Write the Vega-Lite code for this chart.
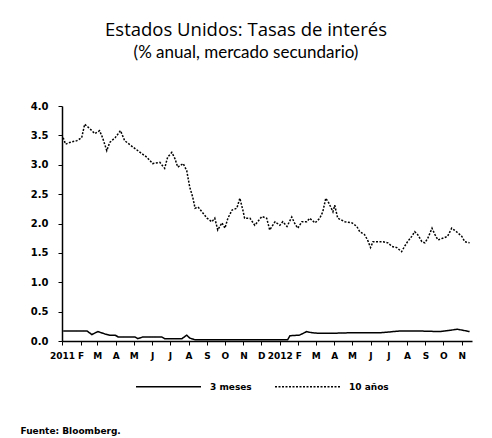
{
  "$schema": "https://vega.github.io/schema/vega-lite/v6.json",
  "width": 410,
  "height": 235,
  "autosize": {"type": "none"},
  "padding": {"left": 62, "top": 106, "right": 20, "bottom": 97},
  "background": "white",
  "title": {
    "text": "Estados Unidos: Tasas de interés",
    "subtitle": "(% anual, mercado secundario)",
    "font": "Open Sans",
    "fontSize": 18.5,
    "fontWeight": 500,
    "subtitleFont": "Lato",
    "subtitleFontSize": 17,
    "subtitlePadding": 6,
    "color": "black",
    "subtitleColor": "black",
    "anchor": "middle",
    "dx": -21,
    "offset": 40
  },
  "data": {
    "values": [
      {"d": "2011-01-03", "s": "10 años", "v": 3.46},
      {"d": "2011-01-07", "s": "10 años", "v": 3.35},
      {"d": "2011-01-14", "s": "10 años", "v": 3.38},
      {"d": "2011-01-26", "s": "10 años", "v": 3.41},
      {"d": "2011-02-03", "s": "10 años", "v": 3.46},
      {"d": "2011-02-08", "s": "10 años", "v": 3.69},
      {"d": "2011-02-17", "s": "10 años", "v": 3.61},
      {"d": "2011-02-25", "s": "10 años", "v": 3.53},
      {"d": "2011-03-05", "s": "10 años", "v": 3.58},
      {"d": "2011-03-10", "s": "10 años", "v": 3.46},
      {"d": "2011-03-17", "s": "10 años", "v": 3.24},
      {"d": "2011-03-22", "s": "10 años", "v": 3.38},
      {"d": "2011-03-31", "s": "10 años", "v": 3.46},
      {"d": "2011-04-09", "s": "10 años", "v": 3.58},
      {"d": "2011-04-16", "s": "10 años", "v": 3.41},
      {"d": "2011-04-30", "s": "10 años", "v": 3.30},
      {"d": "2011-05-12", "s": "10 años", "v": 3.21},
      {"d": "2011-05-23", "s": "10 años", "v": 3.13},
      {"d": "2011-06-02", "s": "10 años", "v": 3.02},
      {"d": "2011-06-14", "s": "10 años", "v": 3.04},
      {"d": "2011-06-22", "s": "10 años", "v": 2.94},
      {"d": "2011-06-27", "s": "10 años", "v": 3.13},
      {"d": "2011-07-04", "s": "10 años", "v": 3.21},
      {"d": "2011-07-09", "s": "10 años", "v": 3.11},
      {"d": "2011-07-14", "s": "10 años", "v": 2.96},
      {"d": "2011-07-23", "s": "10 años", "v": 3.02},
      {"d": "2011-07-29", "s": "10 años", "v": 2.90},
      {"d": "2011-08-03", "s": "10 años", "v": 2.62},
      {"d": "2011-08-08", "s": "10 años", "v": 2.45},
      {"d": "2011-08-12", "s": "10 años", "v": 2.26},
      {"d": "2011-08-17", "s": "10 años", "v": 2.28},
      {"d": "2011-08-25", "s": "10 años", "v": 2.18},
      {"d": "2011-09-01", "s": "10 años", "v": 2.09},
      {"d": "2011-09-09", "s": "10 años", "v": 2.03},
      {"d": "2011-09-14", "s": "10 años", "v": 2.09},
      {"d": "2011-09-19", "s": "10 años", "v": 1.89},
      {"d": "2011-09-26", "s": "10 años", "v": 2.01},
      {"d": "2011-10-01", "s": "10 años", "v": 1.92},
      {"d": "2011-10-06", "s": "10 años", "v": 2.09},
      {"d": "2011-10-13", "s": "10 años", "v": 2.23},
      {"d": "2011-10-21", "s": "10 años", "v": 2.26},
      {"d": "2011-10-26", "s": "10 años", "v": 2.43},
      {"d": "2011-10-31", "s": "10 años", "v": 2.23},
      {"d": "2011-11-03", "s": "10 años", "v": 2.09},
      {"d": "2011-11-12", "s": "10 años", "v": 2.09},
      {"d": "2011-11-20", "s": "10 años", "v": 1.97},
      {"d": "2011-12-02", "s": "10 años", "v": 2.12},
      {"d": "2011-12-10", "s": "10 años", "v": 2.09},
      {"d": "2011-12-15", "s": "10 años", "v": 1.89},
      {"d": "2011-12-24", "s": "10 años", "v": 2.03},
      {"d": "2012-01-01", "s": "10 años", "v": 1.97},
      {"d": "2012-01-06", "s": "10 años", "v": 2.03},
      {"d": "2012-01-13", "s": "10 años", "v": 1.95},
      {"d": "2012-01-21", "s": "10 años", "v": 2.11},
      {"d": "2012-01-26", "s": "10 años", "v": 2.00},
      {"d": "2012-01-31", "s": "10 años", "v": 1.92},
      {"d": "2012-02-07", "s": "10 años", "v": 2.03},
      {"d": "2012-02-15", "s": "10 años", "v": 2.03},
      {"d": "2012-02-20", "s": "10 años", "v": 2.09},
      {"d": "2012-02-29", "s": "10 años", "v": 2.01},
      {"d": "2012-03-08", "s": "10 años", "v": 2.09},
      {"d": "2012-03-13", "s": "10 años", "v": 2.20},
      {"d": "2012-03-18", "s": "10 años", "v": 2.43},
      {"d": "2012-03-23", "s": "10 años", "v": 2.35},
      {"d": "2012-03-30", "s": "10 años", "v": 2.20},
      {"d": "2012-04-02", "s": "10 años", "v": 2.31},
      {"d": "2012-04-07", "s": "10 años", "v": 2.09},
      {"d": "2012-04-19", "s": "10 años", "v": 2.03},
      {"d": "2012-05-01", "s": "10 años", "v": 2.01},
      {"d": "2012-05-09", "s": "10 años", "v": 1.95},
      {"d": "2012-05-14", "s": "10 años", "v": 1.86},
      {"d": "2012-05-22", "s": "10 años", "v": 1.81},
      {"d": "2012-05-27", "s": "10 años", "v": 1.72},
      {"d": "2012-06-01", "s": "10 años", "v": 1.59},
      {"d": "2012-06-05", "s": "10 años", "v": 1.69},
      {"d": "2012-06-13", "s": "10 años", "v": 1.69},
      {"d": "2012-06-22", "s": "10 años", "v": 1.69},
      {"d": "2012-06-30", "s": "10 años", "v": 1.67},
      {"d": "2012-07-07", "s": "10 años", "v": 1.61},
      {"d": "2012-07-15", "s": "10 años", "v": 1.59},
      {"d": "2012-07-23", "s": "10 años", "v": 1.52},
      {"d": "2012-07-28", "s": "10 años", "v": 1.61},
      {"d": "2012-08-02", "s": "10 años", "v": 1.69},
      {"d": "2012-08-09", "s": "10 años", "v": 1.78},
      {"d": "2012-08-14", "s": "10 años", "v": 1.86},
      {"d": "2012-08-19", "s": "10 años", "v": 1.81},
      {"d": "2012-08-26", "s": "10 años", "v": 1.69},
      {"d": "2012-08-31", "s": "10 años", "v": 1.67},
      {"d": "2012-09-05", "s": "10 años", "v": 1.75},
      {"d": "2012-09-12", "s": "10 años", "v": 1.92},
      {"d": "2012-09-17", "s": "10 años", "v": 1.81},
      {"d": "2012-09-22", "s": "10 años", "v": 1.72},
      {"d": "2012-09-30", "s": "10 años", "v": 1.75},
      {"d": "2012-10-08", "s": "10 años", "v": 1.78},
      {"d": "2012-10-15", "s": "10 años", "v": 1.92},
      {"d": "2012-10-23", "s": "10 años", "v": 1.86},
      {"d": "2012-11-01", "s": "10 años", "v": 1.78},
      {"d": "2012-11-06", "s": "10 años", "v": 1.69},
      {"d": "2012-11-14", "s": "10 años", "v": 1.67},
      {"d": "2011-01-03", "s": "3 meses", "v": 0.17},
      {"d": "2011-02-12", "s": "3 meses", "v": 0.17},
      {"d": "2011-02-20", "s": "3 meses", "v": 0.11},
      {"d": "2011-03-02", "s": "3 meses", "v": 0.16},
      {"d": "2011-03-14", "s": "3 meses", "v": 0.12},
      {"d": "2011-03-22", "s": "3 meses", "v": 0.10},
      {"d": "2011-03-31", "s": "3 meses", "v": 0.10},
      {"d": "2011-04-05", "s": "3 meses", "v": 0.07},
      {"d": "2011-05-03", "s": "3 meses", "v": 0.07},
      {"d": "2011-05-08", "s": "3 meses", "v": 0.04},
      {"d": "2011-05-17", "s": "3 meses", "v": 0.07},
      {"d": "2011-06-17", "s": "3 meses", "v": 0.07},
      {"d": "2011-06-22", "s": "3 meses", "v": 0.04},
      {"d": "2011-07-21", "s": "3 meses", "v": 0.04},
      {"d": "2011-07-29", "s": "3 meses", "v": 0.10},
      {"d": "2011-08-03", "s": "3 meses", "v": 0.05},
      {"d": "2011-08-12", "s": "3 meses", "v": 0.02},
      {"d": "2011-10-15", "s": "3 meses", "v": 0.02},
      {"d": "2011-12-15", "s": "3 meses", "v": 0.02},
      {"d": "2012-01-14", "s": "3 meses", "v": 0.02},
      {"d": "2012-01-18", "s": "3 meses", "v": 0.09},
      {"d": "2012-02-03", "s": "3 meses", "v": 0.10},
      {"d": "2012-02-15", "s": "3 meses", "v": 0.16},
      {"d": "2012-02-24", "s": "3 meses", "v": 0.14},
      {"d": "2012-03-08", "s": "3 meses", "v": 0.13},
      {"d": "2012-03-25", "s": "3 meses", "v": 0.13},
      {"d": "2012-04-27", "s": "3 meses", "v": 0.14},
      {"d": "2012-06-17", "s": "3 meses", "v": 0.14},
      {"d": "2012-07-20", "s": "3 meses", "v": 0.17},
      {"d": "2012-08-23", "s": "3 meses", "v": 0.17},
      {"d": "2012-09-25", "s": "3 meses", "v": 0.16},
      {"d": "2012-10-25", "s": "3 meses", "v": 0.20},
      {"d": "2012-11-14", "s": "3 meses", "v": 0.16}
    ]
  },
  "mark": {"type": "line", "color": "black", "strokeWidth": 1.5},
  "encoding": {
    "x": {
      "field": "d",
      "type": "temporal",
      "scale": {"domain": [{"year": 2011, "month": 1, "date": 1}, {"year": 2012, "month": 11, "date": 18}]},
      "axis": {
        "tickCount": {"interval": "month", "step": 1},
        "labelExpr": "month(datum.value) == 0 ? timeFormat(datum.value, '%Y') : substring('EFMAMJJASOND', month(datum.value), month(datum.value) + 1)",
        "labelOverlap": false,
        "labelFlush": false,
        "labelBound": false,
        "grid": false,
        "domainColor": "black",
        "domainWidth": 1.5,
        "tickColor": "black",
        "tickSize": 4,
        "labelFont": "DejaVu Sans",
        "labelFontSize": 9,
        "labelFontWeight": "bold",
        "labelColor": "black",
        "labelPadding": 6,
        "title": "Fuente: Bloomberg.",
        "titleX": -42,
        "titleY": 89,
        "titleAnchor": "start",
        "titleAlign": "left",
        "titleBaseline": "middle",
        "titleFont": "DejaVu Sans",
        "titleFontSize": 9,
        "titleFontWeight": "bold",
        "titleColor": "black"
      }
    },
    "y": {
      "field": "v",
      "type": "quantitative",
      "scale": {"domain": [0, 4], "nice": false},
      "axis": {
        "values": [0, 0.5, 1, 1.5, 2, 2.5, 3, 3.5, 4],
        "format": ".1f",
        "title": null,
        "grid": false,
        "domainColor": "black",
        "domainWidth": 1.5,
        "tickColor": "black",
        "tickSize": 4,
        "labelFont": "DejaVu Sans",
        "labelFontSize": 10,
        "labelFontWeight": "bold",
        "labelColor": "black",
        "labelPadding": 10
      }
    },
    "strokeDash": {
      "field": "s",
      "type": "nominal",
      "scale": {"domain": ["3 meses", "10 años"], "range": [[1, 0], [2, 1.5]]},
      "legend": {
        "orient": "none",
        "legendX": 73,
        "legendY": 247,
        "direction": "horizontal",
        "title": null,
        "symbolType": "stroke",
        "symbolSize": 4225,
        "symbolStrokeWidth": 1.5,
        "symbolStrokeColor": "black",
        "labelFont": "DejaVu Sans",
        "labelFontSize": 9,
        "labelFontWeight": "bold",
        "labelColor": "black",
        "columnPadding": 20,
        "labelOffset": 8,
        "symbolLimit": 0
      }
    }
  },
  "config": {"view": {"stroke": null}}
}
